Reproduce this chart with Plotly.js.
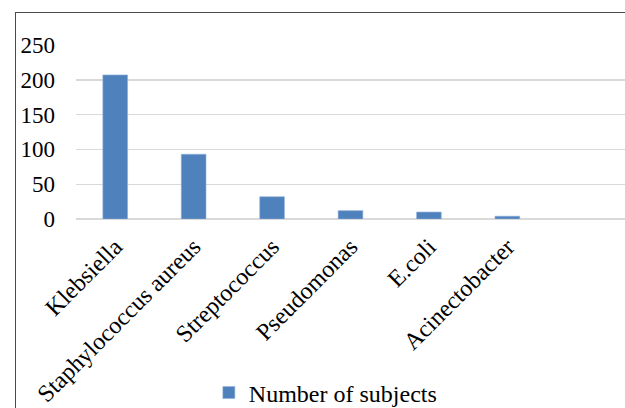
<!DOCTYPE html>
<html>
<head>
<meta charset="utf-8">
<script src="https://cdn.plot.ly/plotly-3.0.1.min.js"></script>
<style>
  html, body { margin: 0; padding: 0; background: #ffffff; overflow: hidden; }
  #wrap { position: relative; width: 625px; height: 408px; }
  #chart { position: absolute; left: 0; top: 0; width: 625px; height: 408px; }
  #frame { position: absolute; left: 15px; top: 12px; width: 700px; height: 500px;
           border-left: 1px solid #4a4a4a; border-top: 1px solid #4a4a4a; pointer-events: none; }
</style>
</head>
<body>
<div id="wrap">
  <div id="chart"></div>
  <div id="frame"></div>
</div>
<script>
// Organisms isolated and how many subjects each was found in
const organisms = ["Klebsiella", "Staphylococcus aureus", "Streptococcus", "Pseudomonas", "E.coli", "Acinectobacter"];
const subjects = [207, 93, 32, 12, 10, 4];
const seriesName = "Number of subjects";
const yTicks = [0, 50, 100, 150, 200, 250];

const serif = "Liberation Serif, Times New Roman, serif";

const trace = {
  type: "bar",
  x: organisms,
  y: subjects,
  name: seriesName,
  marker: { color: "#4f81bd", line: { color: "#8eb0dc", width: 0.6 } },
  showlegend: true,
  hoverinfo: "x+y"
};

const layout = {
  width: 625,
  height: 408,
  margin: { l: 76, r: 0, t: 45, b: 189, autoexpand: false },
  paper_bgcolor: "#ffffff",
  plot_bgcolor: "#ffffff",
  font: { family: serif, size: 23, color: "#000000" },
  bargap: 0.685,
  showlegend: true,
  legend: {
    orientation: "h",
    x: 0.242, xanchor: "left",
    y: -1.0, yanchor: "middle",
    font: { family: serif, size: 24, color: "#000000" },
    bgcolor: "rgba(0,0,0,0)"
  },
  xaxis: {
    type: "category",
    range: [-0.5, 6.5],
    tickangle: -45,
    automargin: false,
    showgrid: false,
    showline: false,
    ticks: "",
    ticklabelstandoff: 8,
    tickfont: { family: serif, size: 24, color: "#000000" }
  },
  yaxis: {
    range: [0, 250],
    tickvals: yTicks,
    ticktext: yTicks.map(String),
    automargin: false,
    showgrid: true,
    gridcolor: "#d9d9d9",
    gridwidth: 1.4,
    zeroline: true,
    zerolinecolor: "#d9d9d9",
    zerolinewidth: 1.4,
    showline: false,
    ticks: "",
    ticklabelstandoff: 20,
    tickfont: { family: serif, size: 23, color: "#000000" }
  }
};

Plotly.newPlot("chart", [trace], layout, { displayModeBar: false, staticPlot: true });
</script>
</body>
</html>
